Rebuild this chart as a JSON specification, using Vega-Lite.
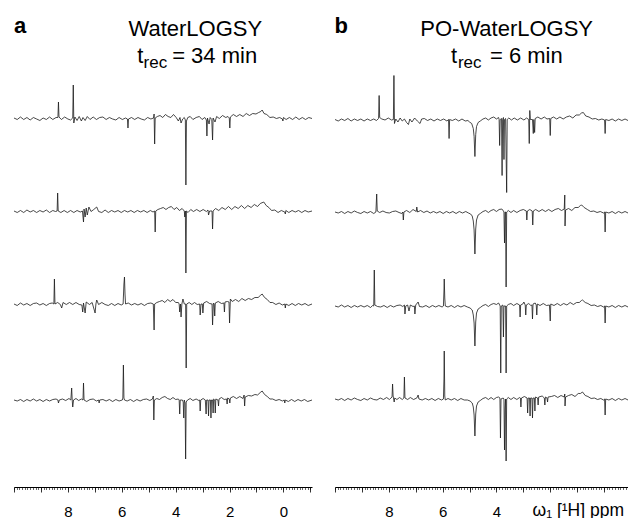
{
"$schema": "https://vega.github.io/schema/vega-lite/v6.json",
"padding": {"left": 12, "top": 0, "right": 0, "bottom": 0},
"bounds": "flush",
"spacing": 23,
"config": {"view": {"stroke": null}, "font": "Liberation Sans"},
"datasets": {
"a0": [{"x":10,"v":0},{"x":9.88,"v":-1.5},{"x":9.76,"v":1},{"x":9.64,"v":-1.5},{"x":9.52,"v":0.5},{"x":9.4,"v":-2},{"x":9.28,"v":0.5},{"x":9.16,"v":-1},{"x":9.04,"v":-2.5},{"x":8.92,"v":0},{"x":8.8,"v":-1.5},{"x":8.68,"v":1},{"x":8.56,"v":-1.5},{"x":8.44,"v":0.5},{"x":8.37,"v":0.5},{"x":8.35,"v":16},{"x":8.33,"v":1},{"x":8.24,"v":-1.5},{"x":8.12,"v":1},{"x":8,"v":-1},{"x":7.9,"v":-2},{"x":7.82,"v":0},{"x":7.8,"v":33},{"x":7.78,"v":-5},{"x":7.74,"v":1},{"x":7.66,"v":-2.5},{"x":7.58,"v":1.5},{"x":7.5,"v":-3},{"x":7.44,"v":0.5},{"x":7.36,"v":-2.5},{"x":7.28,"v":1.5},{"x":7.18,"v":-1.5},{"x":7.06,"v":1},{"x":6.94,"v":-1.5},{"x":6.82,"v":0.5},{"x":6.7,"v":1},{"x":6.58,"v":-1.5},{"x":6.46,"v":0.5},{"x":6.34,"v":-1},{"x":6.22,"v":-2},{"x":6.1,"v":0.5},{"x":5.98,"v":-1.5},{"x":5.86,"v":0},{"x":5.79,"v":-1},{"x":5.77,"v":-10},{"x":5.75,"v":-1},{"x":5.64,"v":0.5},{"x":5.52,"v":-1.5},{"x":5.4,"v":0.5},{"x":5.28,"v":-1},{"x":5.16,"v":-2},{"x":5.04,"v":0.5},{"x":4.92,"v":-1},{"x":4.82,"v":0},{"x":4.8,"v":4},{"x":4.78,"v":-26},{"x":4.76,"v":0},{"x":4.68,"v":1.5},{"x":4.58,"v":2.5},{"x":4.48,"v":0.5},{"x":4.38,"v":3.5},{"x":4.28,"v":1.5},{"x":4.18,"v":0.5},{"x":4.08,"v":3.5},{"x":3.98,"v":0.5},{"x":3.9,"v":-3},{"x":3.84,"v":0.5},{"x":3.8,"v":-5},{"x":3.74,"v":-1},{"x":3.68,"v":0.5},{"x":3.64,"v":-2},{"x":3.62,"v":-67},{"x":3.6,"v":-3},{"x":3.55,"v":0.5},{"x":3.46,"v":1.5},{"x":3.36,"v":-1.5},{"x":3.24,"v":0.5},{"x":3.12,"v":1.5},{"x":3.02,"v":-1.5},{"x":2.92,"v":0.5},{"x":2.86,"v":-2},{"x":2.84,"v":-18},{"x":2.82,"v":0},{"x":2.76,"v":-6},{"x":2.72,"v":0.5},{"x":2.66,"v":-1.5},{"x":2.63,"v":-22},{"x":2.61,"v":0},{"x":2.54,"v":-4},{"x":2.48,"v":1.5},{"x":2.38,"v":-0.5},{"x":2.26,"v":2.5},{"x":2.14,"v":0.5},{"x":2.06,"v":1.5},{"x":2.01,"v":0},{"x":1.99,"v":-10},{"x":1.97,"v":1},{"x":1.86,"v":3.5},{"x":1.74,"v":1.5},{"x":1.62,"v":3.5},{"x":1.5,"v":1.5},{"x":1.38,"v":4.5},{"x":1.26,"v":2.5},{"x":1.14,"v":4.5},{"x":1.02,"v":4},{"x":0.92,"v":5.5},{"x":0.84,"v":6.5},{"x":0.79,"v":8},{"x":0.72,"v":4.5},{"x":0.62,"v":3.5},{"x":0.5,"v":0.5},{"x":0.38,"v":1},{"x":0.26,"v":-0.5},{"x":0.14,"v":0.5},{"x":0.04,"v":-1},{"x":0.02,"v":-3},{"x":0,"v":0.5},{"x":-0.1,"v":-1.5},{"x":-0.22,"v":0.5},{"x":-0.34,"v":-1.5},{"x":-0.46,"v":1},{"x":-0.58,"v":-1.5},{"x":-0.7,"v":0.5},{"x":-0.82,"v":-1.5},{"x":-0.94,"v":0.5},{"x":-1.06,"v":-0.5}],
"a1": [{"x":10,"v":0},{"x":9.88,"v":-1.5},{"x":9.76,"v":0.5},{"x":9.64,"v":-1.5},{"x":9.52,"v":1},{"x":9.4,"v":-1},{"x":9.28,"v":0.5},{"x":9.16,"v":-1.5},{"x":9.04,"v":0.5},{"x":8.92,"v":-1},{"x":8.8,"v":1},{"x":8.68,"v":-1.5},{"x":8.56,"v":0.5},{"x":8.46,"v":-0.5},{"x":8.4,"v":0},{"x":8.38,"v":18},{"x":8.36,"v":0},{"x":8.26,"v":-1.5},{"x":8.14,"v":0.5},{"x":8.02,"v":-1.5},{"x":7.9,"v":0.5},{"x":7.78,"v":-1.5},{"x":7.66,"v":0.5},{"x":7.54,"v":-1},{"x":7.46,"v":0},{"x":7.42,"v":-11},{"x":7.4,"v":2},{"x":7.36,"v":-6},{"x":7.32,"v":3},{"x":7.28,"v":-4},{"x":7.22,"v":4},{"x":7.14,"v":-0.5},{"x":7.04,"v":1.5},{"x":6.93,"v":4},{"x":6.86,"v":-0.5},{"x":6.74,"v":-1.5},{"x":6.62,"v":1},{"x":6.5,"v":-1.5},{"x":6.38,"v":0.5},{"x":6.26,"v":-1},{"x":6.14,"v":0.5},{"x":6.02,"v":-1.5},{"x":5.9,"v":0.5},{"x":5.78,"v":-1},{"x":5.66,"v":0.5},{"x":5.54,"v":-1.5},{"x":5.42,"v":0.5},{"x":5.3,"v":-1},{"x":5.18,"v":0.5},{"x":5.06,"v":-1.5},{"x":4.94,"v":0.5},{"x":4.84,"v":-1},{"x":4.78,"v":0},{"x":4.76,"v":-21},{"x":4.74,"v":0},{"x":4.66,"v":1.5},{"x":4.56,"v":2.5},{"x":4.46,"v":3.5},{"x":4.36,"v":1.5},{"x":4.26,"v":3.5},{"x":4.16,"v":4.5},{"x":4.06,"v":1.5},{"x":3.96,"v":3.5},{"x":3.86,"v":0.5},{"x":3.76,"v":2.5},{"x":3.68,"v":0},{"x":3.66,"v":-6},{"x":3.64,"v":0},{"x":3.62,"v":-62},{"x":3.6,"v":0},{"x":3.54,"v":-1.5},{"x":3.44,"v":1.5},{"x":3.34,"v":-0.5},{"x":3.22,"v":1.5},{"x":3.1,"v":-0.5},{"x":2.98,"v":1.5},{"x":2.86,"v":-0.5},{"x":2.8,"v":1},{"x":2.78,"v":-4},{"x":2.74,"v":0},{"x":2.65,"v":0},{"x":2.63,"v":-18},{"x":2.61,"v":0},{"x":2.52,"v":2.5},{"x":2.4,"v":0.5},{"x":2.28,"v":3.5},{"x":2.16,"v":1.5},{"x":2.04,"v":4.5},{"x":1.92,"v":1.5},{"x":1.8,"v":4.5},{"x":1.68,"v":2.5},{"x":1.56,"v":5.5},{"x":1.44,"v":2.5},{"x":1.32,"v":5.5},{"x":1.2,"v":3.5},{"x":1.08,"v":6.5},{"x":0.96,"v":4.5},{"x":0.86,"v":7.5},{"x":0.73,"v":9},{"x":0.64,"v":5.5},{"x":0.54,"v":3.5},{"x":0.44,"v":0.5},{"x":0.32,"v":1},{"x":0.2,"v":-1.5},{"x":0.08,"v":0.5},{"x":-0.05,"v":-1},{"x":-0.07,"v":-3},{"x":-0.09,"v":0.5},{"x":-0.2,"v":-1.5},{"x":-0.32,"v":0.5},{"x":-0.44,"v":-1},{"x":-0.56,"v":0.5},{"x":-0.68,"v":-1.5},{"x":-0.8,"v":0.5},{"x":-0.92,"v":-1},{"x":-1.06,"v":0}],
"a2": [{"x":10,"v":0},{"x":9.88,"v":-1.5},{"x":9.76,"v":1},{"x":9.64,"v":-1},{"x":9.52,"v":0.5},{"x":9.4,"v":-1.5},{"x":9.28,"v":0.5},{"x":9.16,"v":1},{"x":9.04,"v":-1},{"x":8.92,"v":0.5},{"x":8.8,"v":-1.5},{"x":8.68,"v":0.5},{"x":8.58,"v":1},{"x":8.52,"v":0},{"x":8.5,"v":25},{"x":8.48,"v":0},{"x":8.38,"v":1.5},{"x":8.28,"v":-0.5},{"x":8.23,"v":-4},{"x":8.18,"v":1.5},{"x":8.06,"v":-0.5},{"x":7.94,"v":1.5},{"x":7.82,"v":-0.5},{"x":7.7,"v":1.5},{"x":7.58,"v":-0.5},{"x":7.48,"v":-1},{"x":7.45,"v":-8},{"x":7.42,"v":1},{"x":7.36,"v":-9},{"x":7.32,"v":2},{"x":7.2,"v":-0.5},{"x":7.1,"v":1.5},{"x":6.99,"v":-9},{"x":6.96,"v":0},{"x":6.93,"v":4},{"x":6.86,"v":-0.5},{"x":6.74,"v":1.5},{"x":6.62,"v":-0.5},{"x":6.5,"v":-1.5},{"x":6.38,"v":0.5},{"x":6.26,"v":-1.5},{"x":6.14,"v":0.5},{"x":6.02,"v":-1},{"x":5.95,"v":0},{"x":5.92,"v":20},{"x":5.9,"v":27},{"x":5.88,"v":10},{"x":5.86,"v":0},{"x":5.76,"v":1},{"x":5.64,"v":-1},{"x":5.52,"v":0.5},{"x":5.4,"v":-1},{"x":5.28,"v":0.5},{"x":5.16,"v":-1.5},{"x":5.04,"v":0.5},{"x":4.92,"v":1},{"x":4.83,"v":0},{"x":4.8,"v":-26},{"x":4.78,"v":0},{"x":4.7,"v":1.5},{"x":4.6,"v":2.5},{"x":4.5,"v":3.5},{"x":4.4,"v":1.5},{"x":4.3,"v":4.5},{"x":4.2,"v":2.5},{"x":4.1,"v":4.5},{"x":4,"v":1.5},{"x":3.9,"v":1.5},{"x":3.87,"v":0},{"x":3.85,"v":-8},{"x":3.82,"v":0},{"x":3.8,"v":-13},{"x":3.77,"v":0},{"x":3.73,"v":5},{"x":3.68,"v":0},{"x":3.63,"v":0},{"x":3.61,"v":-64},{"x":3.59,"v":0},{"x":3.5,"v":1.5},{"x":3.4,"v":-0.5},{"x":3.3,"v":1.5},{"x":3.2,"v":-0.5},{"x":3.11,"v":0},{"x":3.09,"v":-11},{"x":3.06,"v":0},{"x":3.01,"v":0},{"x":2.99,"v":-9},{"x":2.96,"v":1},{"x":2.85,"v":2.5},{"x":2.74,"v":0.5},{"x":2.65,"v":0},{"x":2.63,"v":-21},{"x":2.6,"v":1},{"x":2.57,"v":0},{"x":2.55,"v":-12},{"x":2.53,"v":1},{"x":2.42,"v":2.5},{"x":2.3,"v":0.5},{"x":2.21,"v":1},{"x":2.19,"v":-8},{"x":2.17,"v":2},{"x":2.08,"v":2.5},{"x":2.02,"v":2},{"x":2,"v":-19},{"x":1.97,"v":5},{"x":1.9,"v":2.5},{"x":1.78,"v":4.5},{"x":1.66,"v":2.5},{"x":1.54,"v":5.5},{"x":1.42,"v":3.5},{"x":1.3,"v":5.5},{"x":1.18,"v":4.5},{"x":1.06,"v":6.5},{"x":0.94,"v":6.5},{"x":0.86,"v":8.5},{"x":0.79,"v":10},{"x":0.7,"v":6.5},{"x":0.6,"v":4.5},{"x":0.5,"v":1.5},{"x":0.4,"v":1.5},{"x":0.28,"v":-0.5},{"x":0.16,"v":1},{"x":0.04,"v":-1},{"x":-0.05,"v":0},{"x":-0.07,"v":-4},{"x":-0.09,"v":0},{"x":-0.2,"v":-1.5},{"x":-0.32,"v":0.5},{"x":-0.44,"v":-1.5},{"x":-0.56,"v":0.5},{"x":-0.68,"v":-1},{"x":-0.8,"v":0.5},{"x":-0.92,"v":-1.5},{"x":-1.06,"v":0}],
"a3": [{"x":10,"v":0},{"x":9.88,"v":-1},{"x":9.76,"v":0.5},{"x":9.64,"v":-1.5},{"x":9.52,"v":0.5},{"x":9.4,"v":-1},{"x":9.28,"v":1},{"x":9.16,"v":-1},{"x":9.04,"v":0.5},{"x":8.92,"v":-1.5},{"x":8.8,"v":0.5},{"x":8.68,"v":-1},{"x":8.56,"v":0.5},{"x":8.44,"v":1},{"x":8.37,"v":0},{"x":8.35,"v":-3},{"x":8.32,"v":0},{"x":8.2,"v":1},{"x":8.08,"v":-0.5},{"x":7.96,"v":1.5},{"x":7.89,"v":0},{"x":7.86,"v":12},{"x":7.84,"v":0},{"x":7.82,"v":-7},{"x":7.79,"v":0},{"x":7.7,"v":1.5},{"x":7.6,"v":-0.5},{"x":7.5,"v":1},{"x":7.44,"v":0},{"x":7.42,"v":17},{"x":7.4,"v":0},{"x":7.3,"v":-1.5},{"x":7.18,"v":0.5},{"x":7.06,"v":1},{"x":6.94,"v":-1},{"x":6.86,"v":0},{"x":6.84,"v":-3},{"x":6.82,"v":0},{"x":6.7,"v":0.5},{"x":6.58,"v":-1},{"x":6.46,"v":0.5},{"x":6.34,"v":-1.5},{"x":6.22,"v":0.5},{"x":6.1,"v":-1},{"x":5.98,"v":0},{"x":5.96,"v":2},{"x":5.94,"v":35},{"x":5.92,"v":2},{"x":5.9,"v":0},{"x":5.8,"v":-1},{"x":5.68,"v":0.5},{"x":5.56,"v":-1.5},{"x":5.44,"v":0.5},{"x":5.32,"v":-1},{"x":5.2,"v":0.5},{"x":5.08,"v":1},{"x":4.96,"v":-0.5},{"x":4.86,"v":1},{"x":4.83,"v":4},{"x":4.81,"v":-20},{"x":4.79,"v":0},{"x":4.7,"v":1.5},{"x":4.6,"v":0.5},{"x":4.5,"v":2.5},{"x":4.4,"v":3.5},{"x":4.3,"v":1.5},{"x":4.2,"v":0.5},{"x":4.1,"v":2.5},{"x":4,"v":0.5},{"x":3.9,"v":1},{"x":3.87,"v":0},{"x":3.85,"v":-14},{"x":3.83,"v":0},{"x":3.75,"v":0},{"x":3.72,"v":-2},{"x":3.7,"v":-18},{"x":3.68,"v":0},{"x":3.65,"v":-3},{"x":3.63,"v":-59},{"x":3.61,"v":-2},{"x":3.56,"v":0},{"x":3.46,"v":1.5},{"x":3.36,"v":-0.5},{"x":3.24,"v":1},{"x":3.14,"v":-0.5},{"x":3.11,"v":0},{"x":3.09,"v":-11},{"x":3.07,"v":0},{"x":2.98,"v":1.5},{"x":2.9,"v":0},{"x":2.87,"v":-14},{"x":2.85,"v":0},{"x":2.8,"v":0},{"x":2.78,"v":-16},{"x":2.76,"v":0},{"x":2.71,"v":0},{"x":2.69,"v":-18},{"x":2.67,"v":0},{"x":2.63,"v":0},{"x":2.61,"v":-13},{"x":2.59,"v":1},{"x":2.55,"v":0},{"x":2.53,"v":-13},{"x":2.51,"v":1},{"x":2.43,"v":0},{"x":2.41,"v":-6},{"x":2.39,"v":1},{"x":2.3,"v":2.5},{"x":2.2,"v":0.5},{"x":2.11,"v":1},{"x":2.09,"v":-4},{"x":2.07,"v":2},{"x":2.01,"v":1},{"x":1.99,"v":-3},{"x":1.97,"v":2},{"x":1.86,"v":3.5},{"x":1.74,"v":1.5},{"x":1.62,"v":3.5},{"x":1.5,"v":1.5},{"x":1.46,"v":5},{"x":1.44,"v":-6},{"x":1.42,"v":3},{"x":1.3,"v":4.5},{"x":1.18,"v":4},{"x":1.06,"v":5.5},{"x":0.96,"v":5},{"x":0.86,"v":7.5},{"x":0.79,"v":9},{"x":0.7,"v":5.5},{"x":0.6,"v":3.5},{"x":0.5,"v":1},{"x":0.4,"v":1},{"x":0.28,"v":-0.5},{"x":0.16,"v":0.5},{"x":0.04,"v":-1},{"x":-0.03,"v":0},{"x":-0.05,"v":-3},{"x":-0.07,"v":0},{"x":-0.18,"v":-1.5},{"x":-0.3,"v":0.5},{"x":-0.42,"v":-1.5},{"x":-0.54,"v":0.5},{"x":-0.66,"v":-1},{"x":-0.78,"v":0.5},{"x":-0.9,"v":-1.5},{"x":-1.06,"v":0}],
"b0": [{"x":10,"v":0},{"x":9.88,"v":-1.5},{"x":9.76,"v":0.5},{"x":9.64,"v":-1},{"x":9.52,"v":1},{"x":9.4,"v":-1.5},{"x":9.28,"v":0.5},{"x":9.16,"v":-1},{"x":9.04,"v":0.5},{"x":8.92,"v":-1.5},{"x":8.8,"v":0.5},{"x":8.68,"v":-1},{"x":8.56,"v":0.5},{"x":8.46,"v":-1},{"x":8.38,"v":1},{"x":8.36,"v":24},{"x":8.34,"v":2},{"x":8.26,"v":0.5},{"x":8.14,"v":-0.5},{"x":8.02,"v":1.5},{"x":7.9,"v":-0.5},{"x":7.83,"v":0},{"x":7.81,"v":44},{"x":7.79,"v":-4},{"x":7.74,"v":0.5},{"x":7.66,"v":-2.5},{"x":7.58,"v":1.5},{"x":7.5,"v":-1.5},{"x":7.42,"v":0.5},{"x":7.34,"v":-3},{"x":7.27,"v":-5},{"x":7.22,"v":0.5},{"x":7.14,"v":-2.5},{"x":7.04,"v":1.5},{"x":6.94,"v":-1.5},{"x":6.84,"v":-4},{"x":6.78,"v":0.5},{"x":6.68,"v":1},{"x":6.56,"v":-1},{"x":6.44,"v":0.5},{"x":6.32,"v":-1.5},{"x":6.2,"v":0.5},{"x":6.08,"v":-1},{"x":5.96,"v":0.5},{"x":5.84,"v":-1.5},{"x":5.78,"v":0},{"x":5.76,"v":-19},{"x":5.74,"v":0},{"x":5.64,"v":-1},{"x":5.52,"v":0.5},{"x":5.4,"v":-1.5},{"x":5.28,"v":0.5},{"x":5.16,"v":-1.5},{"x":5.06,"v":-1},{"x":5,"v":-2.5},{"x":4.92,"v":-4},{"x":4.86,"v":-9},{"x":4.83,"v":-17},{"x":4.8,"v":-37},{"x":4.77,"v":-15},{"x":4.74,"v":-7},{"x":4.68,"v":-3},{"x":4.6,"v":-1.5},{"x":4.5,"v":0.5},{"x":4.4,"v":1.5},{"x":4.3,"v":-0.5},{"x":4.2,"v":1.5},{"x":4.1,"v":2.5},{"x":4,"v":0.5},{"x":3.92,"v":2},{"x":3.9,"v":0},{"x":3.88,"v":-26},{"x":3.86,"v":0},{"x":3.81,"v":1},{"x":3.79,"v":-56},{"x":3.77,"v":0},{"x":3.74,"v":2},{"x":3.72,"v":-40},{"x":3.7,"v":0},{"x":3.66,"v":1},{"x":3.62,"v":-73},{"x":3.6,"v":0},{"x":3.54,"v":1.5},{"x":3.44,"v":-0.5},{"x":3.34,"v":1.5},{"x":3.22,"v":-0.5},{"x":3.1,"v":1.5},{"x":2.98,"v":-0.5},{"x":2.88,"v":1.5},{"x":2.8,"v":0},{"x":2.78,"v":-24},{"x":2.76,"v":9},{"x":2.74,"v":0},{"x":2.66,"v":0},{"x":2.63,"v":-14},{"x":2.61,"v":0},{"x":2.58,"v":-13},{"x":2.56,"v":1},{"x":2.46,"v":2.5},{"x":2.34,"v":0.5},{"x":2.22,"v":2.5},{"x":2.12,"v":0.5},{"x":2.02,"v":1},{"x":2,"v":-16},{"x":1.98,"v":1},{"x":1.88,"v":2.5},{"x":1.76,"v":0.5},{"x":1.64,"v":2.5},{"x":1.52,"v":0.5},{"x":1.4,"v":2.5},{"x":1.28,"v":3.5},{"x":1.16,"v":1.5},{"x":1.04,"v":4.5},{"x":0.92,"v":4.5},{"x":0.84,"v":6.5},{"x":0.77,"v":7},{"x":0.68,"v":3.5},{"x":0.56,"v":2.5},{"x":0.44,"v":0.5},{"x":0.32,"v":1},{"x":0.2,"v":-0.5},{"x":0.08,"v":0.5},{"x":-0.02,"v":-0.5},{"x":-0.04,"v":-14},{"x":-0.06,"v":0},{"x":-0.18,"v":-1},{"x":-0.3,"v":0.5},{"x":-0.42,"v":-1.5},{"x":-0.54,"v":0.5},{"x":-0.66,"v":-1},{"x":-0.78,"v":0.5},{"x":-0.89,"v":-1}],
"b1": [{"x":10,"v":0},{"x":9.88,"v":-1},{"x":9.76,"v":0.5},{"x":9.64,"v":-1.5},{"x":9.52,"v":0.5},{"x":9.4,"v":-1},{"x":9.28,"v":1},{"x":9.16,"v":-0.5},{"x":9.04,"v":-1.5},{"x":8.92,"v":0.5},{"x":8.8,"v":-1},{"x":8.68,"v":0.5},{"x":8.56,"v":-1.5},{"x":8.48,"v":0},{"x":8.45,"v":18},{"x":8.43,"v":1},{"x":8.34,"v":-0.5},{"x":8.22,"v":1},{"x":8.1,"v":-0.5},{"x":7.98,"v":-1},{"x":7.86,"v":0.5},{"x":7.74,"v":1},{"x":7.62,"v":-0.5},{"x":7.52,"v":-1.5},{"x":7.48,"v":0},{"x":7.46,"v":-8},{"x":7.44,"v":0},{"x":7.34,"v":1.5},{"x":7.22,"v":-0.5},{"x":7.1,"v":2.5},{"x":6.98,"v":0.5},{"x":6.96,"v":5},{"x":6.93,"v":0},{"x":6.82,"v":1.5},{"x":6.7,"v":-0.5},{"x":6.58,"v":1},{"x":6.46,"v":-1},{"x":6.34,"v":0.5},{"x":6.22,"v":-1},{"x":6.1,"v":0.5},{"x":5.98,"v":-1.5},{"x":5.86,"v":0.5},{"x":5.74,"v":-1},{"x":5.62,"v":0.5},{"x":5.5,"v":-1.5},{"x":5.38,"v":0.5},{"x":5.26,"v":-1},{"x":5.14,"v":0.5},{"x":5.04,"v":-1},{"x":4.96,"v":-2},{"x":4.9,"v":-4},{"x":4.86,"v":-9},{"x":4.83,"v":-18},{"x":4.8,"v":-42},{"x":4.77,"v":-17},{"x":4.74,"v":-8},{"x":4.68,"v":-3},{"x":4.6,"v":-1.5},{"x":4.5,"v":0.5},{"x":4.4,"v":1.5},{"x":4.3,"v":-0.5},{"x":4.2,"v":1.5},{"x":4.1,"v":2.5},{"x":4,"v":0.5},{"x":3.9,"v":2.5},{"x":3.8,"v":3},{"x":3.74,"v":1},{"x":3.72,"v":0},{"x":3.7,"v":-31},{"x":3.68,"v":0},{"x":3.66,"v":0},{"x":3.64,"v":-75},{"x":3.62,"v":0},{"x":3.56,"v":1.5},{"x":3.46,"v":-0.5},{"x":3.36,"v":1.5},{"x":3.24,"v":-0.5},{"x":3.12,"v":1.5},{"x":3,"v":2.5},{"x":2.89,"v":1},{"x":2.87,"v":-8},{"x":2.85,"v":1},{"x":2.76,"v":2.5},{"x":2.67,"v":1},{"x":2.65,"v":-13},{"x":2.63,"v":1},{"x":2.54,"v":2.5},{"x":2.42,"v":0.5},{"x":2.3,"v":2.5},{"x":2.18,"v":0.5},{"x":2.06,"v":2.5},{"x":1.94,"v":0.5},{"x":1.82,"v":2.5},{"x":1.7,"v":3.5},{"x":1.58,"v":1.5},{"x":1.48,"v":3},{"x":1.46,"v":17},{"x":1.45,"v":-14},{"x":1.43,"v":2},{"x":1.32,"v":3.5},{"x":1.2,"v":1.5},{"x":1.08,"v":4.5},{"x":0.96,"v":4.5},{"x":0.88,"v":6.5},{"x":0.83,"v":7},{"x":0.74,"v":4.5},{"x":0.62,"v":2.5},{"x":0.5,"v":0.5},{"x":0.38,"v":1},{"x":0.26,"v":-0.5},{"x":0.14,"v":0.5},{"x":0.02,"v":-1},{"x":-0.02,"v":0},{"x":-0.04,"v":-20},{"x":-0.06,"v":0},{"x":-0.18,"v":-1},{"x":-0.3,"v":0.5},{"x":-0.42,"v":-1.5},{"x":-0.54,"v":0.5},{"x":-0.66,"v":-1},{"x":-0.78,"v":0.5},{"x":-0.89,"v":-1}],
"b2": [{"x":10,"v":0},{"x":9.88,"v":-1},{"x":9.76,"v":1},{"x":9.64,"v":-1},{"x":9.52,"v":0.5},{"x":9.4,"v":-1.5},{"x":9.28,"v":0.5},{"x":9.16,"v":-1},{"x":9.04,"v":0.5},{"x":8.92,"v":-1},{"x":8.8,"v":0.5},{"x":8.68,"v":-1.5},{"x":8.6,"v":0.5},{"x":8.56,"v":0},{"x":8.54,"v":36},{"x":8.52,"v":1},{"x":8.42,"v":-0.5},{"x":8.3,"v":-1},{"x":8.18,"v":0.5},{"x":8.06,"v":-1.5},{"x":7.94,"v":0.5},{"x":7.82,"v":-1},{"x":7.7,"v":0.5},{"x":7.58,"v":1},{"x":7.48,"v":-0.5},{"x":7.42,"v":1},{"x":7.4,"v":-8},{"x":7.37,"v":0},{"x":7.3,"v":1},{"x":7.25,"v":-5},{"x":7.2,"v":1},{"x":7.1,"v":-0.5},{"x":7.05,"v":0},{"x":7.03,"v":-8},{"x":7,"v":1},{"x":6.91,"v":4},{"x":6.86,"v":-0.5},{"x":6.74,"v":-1},{"x":6.62,"v":0.5},{"x":6.5,"v":-1.5},{"x":6.38,"v":0.5},{"x":6.26,"v":-1},{"x":6.14,"v":0.5},{"x":6.02,"v":-1},{"x":5.97,"v":0},{"x":5.95,"v":15},{"x":5.94,"v":27},{"x":5.92,"v":8},{"x":5.9,"v":0},{"x":5.8,"v":-1},{"x":5.68,"v":0.5},{"x":5.56,"v":-1.5},{"x":5.44,"v":0.5},{"x":5.32,"v":-1},{"x":5.2,"v":0.5},{"x":5.08,"v":-1},{"x":4.98,"v":-2},{"x":4.9,"v":-4},{"x":4.86,"v":-9},{"x":4.83,"v":-17},{"x":4.8,"v":-40},{"x":4.77,"v":-16},{"x":4.74,"v":-7},{"x":4.68,"v":-3},{"x":4.6,"v":-1.5},{"x":4.5,"v":0.5},{"x":4.4,"v":1.5},{"x":4.3,"v":-0.5},{"x":4.2,"v":1.5},{"x":4.1,"v":2.5},{"x":4,"v":1.5},{"x":3.92,"v":3},{"x":3.88,"v":1},{"x":3.86,"v":0},{"x":3.84,"v":-67},{"x":3.82,"v":0},{"x":3.76,"v":1},{"x":3.74,"v":-31},{"x":3.72,"v":0},{"x":3.66,"v":0},{"x":3.64,"v":-67},{"x":3.62,"v":0},{"x":3.56,"v":1.5},{"x":3.46,"v":2.5},{"x":3.36,"v":0.5},{"x":3.24,"v":2.5},{"x":3.14,"v":1},{"x":3.12,"v":-11},{"x":3.1,"v":1},{"x":3.02,"v":2},{"x":2.98,"v":4},{"x":2.93,"v":1},{"x":2.91,"v":-9},{"x":2.89,"v":1},{"x":2.8,"v":2.5},{"x":2.72,"v":0.5},{"x":2.68,"v":1},{"x":2.66,"v":-13},{"x":2.64,"v":2},{"x":2.56,"v":3},{"x":2.52,"v":1},{"x":2.5,"v":-9},{"x":2.48,"v":2},{"x":2.38,"v":0.5},{"x":2.26,"v":2.5},{"x":2.14,"v":0.5},{"x":2.03,"v":1},{"x":2,"v":-15},{"x":1.98,"v":2},{"x":1.86,"v":0.5},{"x":1.74,"v":2.5},{"x":1.62,"v":0.5},{"x":1.5,"v":2.5},{"x":1.38,"v":1},{"x":1.26,"v":3.5},{"x":1.14,"v":1.5},{"x":1.02,"v":3.5},{"x":0.92,"v":3.5},{"x":0.84,"v":5.5},{"x":0.8,"v":6},{"x":0.7,"v":3.5},{"x":0.6,"v":2.5},{"x":0.48,"v":0.5},{"x":0.36,"v":1},{"x":0.24,"v":-0.5},{"x":0.12,"v":0.5},{"x":0.02,"v":-1},{"x":-0.02,"v":0},{"x":-0.04,"v":-17},{"x":-0.06,"v":0},{"x":-0.18,"v":-1},{"x":-0.3,"v":0.5},{"x":-0.42,"v":-1.5},{"x":-0.54,"v":0.5},{"x":-0.66,"v":-1},{"x":-0.78,"v":0.5},{"x":-0.89,"v":-1}],
"b3": [{"x":10,"v":0},{"x":9.88,"v":-1},{"x":9.76,"v":0.5},{"x":9.64,"v":-1.5},{"x":9.52,"v":0.5},{"x":9.4,"v":-1},{"x":9.28,"v":1},{"x":9.16,"v":-0.5},{"x":9.04,"v":-1.5},{"x":8.92,"v":0.5},{"x":8.8,"v":-1},{"x":8.68,"v":1},{"x":8.56,"v":-0.5},{"x":8.44,"v":-1},{"x":8.32,"v":1},{"x":8.2,"v":-0.5},{"x":8.08,"v":1.5},{"x":7.98,"v":-0.5},{"x":7.92,"v":1},{"x":7.88,"v":2},{"x":7.86,"v":15},{"x":7.84,"v":3},{"x":7.8,"v":-3},{"x":7.78,"v":1},{"x":7.7,"v":-0.5},{"x":7.6,"v":1.5},{"x":7.5,"v":-0.5},{"x":7.44,"v":1},{"x":7.42,"v":22},{"x":7.4,"v":1},{"x":7.3,"v":-0.5},{"x":7.2,"v":1.5},{"x":7.08,"v":-0.5},{"x":6.96,"v":1},{"x":6.91,"v":4},{"x":6.88,"v":0},{"x":6.76,"v":-1},{"x":6.64,"v":0.5},{"x":6.52,"v":-1},{"x":6.4,"v":0.5},{"x":6.28,"v":-1.5},{"x":6.16,"v":0.5},{"x":6.04,"v":-1},{"x":5.97,"v":0},{"x":5.95,"v":20},{"x":5.94,"v":48},{"x":5.92,"v":3},{"x":5.9,"v":-1},{"x":5.8,"v":0.5},{"x":5.68,"v":-1},{"x":5.56,"v":0.5},{"x":5.44,"v":-1.5},{"x":5.32,"v":0.5},{"x":5.2,"v":-1},{"x":5.08,"v":-1},{"x":4.98,"v":-2},{"x":4.9,"v":-4},{"x":4.86,"v":-8},{"x":4.83,"v":-16},{"x":4.8,"v":-37},{"x":4.77,"v":-15},{"x":4.74,"v":-7},{"x":4.68,"v":-3},{"x":4.6,"v":-1.5},{"x":4.5,"v":0.5},{"x":4.4,"v":1.5},{"x":4.3,"v":-0.5},{"x":4.2,"v":1.5},{"x":4.1,"v":-0.5},{"x":4,"v":1.5},{"x":3.92,"v":2},{"x":3.87,"v":1},{"x":3.85,"v":-39},{"x":3.83,"v":0},{"x":3.75,"v":1},{"x":3.72,"v":0},{"x":3.7,"v":-51},{"x":3.68,"v":-10},{"x":3.66,"v":0},{"x":3.64,"v":-62},{"x":3.62,"v":0},{"x":3.56,"v":1.5},{"x":3.46,"v":-0.5},{"x":3.36,"v":1.5},{"x":3.24,"v":-0.5},{"x":3.14,"v":1.5},{"x":3.11,"v":1},{"x":3.09,"v":-8},{"x":3.07,"v":1},{"x":2.96,"v":2.5},{"x":2.86,"v":1},{"x":2.84,"v":-14},{"x":2.82,"v":1},{"x":2.77,"v":1},{"x":2.75,"v":-17},{"x":2.73,"v":1},{"x":2.68,"v":1},{"x":2.66,"v":-19},{"x":2.64,"v":1},{"x":2.59,"v":1},{"x":2.57,"v":-12},{"x":2.55,"v":2},{"x":2.47,"v":1},{"x":2.45,"v":-6},{"x":2.43,"v":2},{"x":2.3,"v":3},{"x":2.22,"v":1},{"x":2.2,"v":-6},{"x":2.18,"v":2},{"x":2.12,"v":1},{"x":2.1,"v":-3},{"x":2.08,"v":2},{"x":1.96,"v":2.5},{"x":1.84,"v":3.5},{"x":1.72,"v":1.5},{"x":1.6,"v":3.5},{"x":1.48,"v":2},{"x":1.46,"v":5},{"x":1.45,"v":-7},{"x":1.43,"v":2},{"x":1.32,"v":3.5},{"x":1.2,"v":4.5},{"x":1.08,"v":2.5},{"x":0.96,"v":5.5},{"x":0.88,"v":5.5},{"x":0.8,"v":7},{"x":0.7,"v":3.5},{"x":0.6,"v":2.5},{"x":0.48,"v":0.5},{"x":0.36,"v":1},{"x":0.24,"v":-0.5},{"x":0.12,"v":0.5},{"x":0.02,"v":-1},{"x":-0.02,"v":0},{"x":-0.04,"v":-16},{"x":-0.06,"v":0},{"x":-0.18,"v":-1},{"x":-0.3,"v":0.5},{"x":-0.42,"v":-1.5},{"x":-0.54,"v":0.5},{"x":-0.66,"v":-1},{"x":-0.78,"v":0.5},{"x":-0.89,"v":-1}]
},
"hconcat": [
{
"width": 298, "height": 487,
"resolve": {"axis": {"x": "independent"}},
"layer": [
{"data": {"name": "a0"}, "transform": [{"calculate": "datum.v", "as": "y"}],
 "mark": {"type": "line", "color": "#1a1a1a", "strokeWidth": 0.8},
 "encoding": {
  "x": {"field": "x", "type": "quantitative", "scale": {"domain": [-1.06, 10], "reverse": true, "nice": false, "zero": false},
   "axis": {"orient": "bottom", "values": [10,9,8,7,6,5,4,3,2,1,0,-1], "tickSize": 5, "tickWidth": 0.8, "tickColor": "black", "domainColor": "black", "domainWidth": 1, "grid": false, "title": null, "labelExpr": "datum.value % 2 == 0 && datum.value < 9 ? datum.label : ''", "labelFontSize": 15, "labelColor": "black", "labelPadding": 12, "labelFlush": false, "labelOverlap": false, "labelFont": "Liberation Sans"}},
  "y": {"field": "y", "type": "quantitative", "scale": {"domain": [-369, 118], "nice": false, "zero": false}, "axis": null}}},
{"data": {"name": "a1"}, "transform": [{"calculate": "datum.v - 93", "as": "y"}],
 "mark": {"type": "line", "color": "#1a1a1a", "strokeWidth": 0.8},
 "encoding": {
  "x": {"field": "x", "type": "quantitative", "axis": {"orient": "bottom", "tickCount": 110, "tickSize": 2.5, "tickWidth": 0.6, "tickColor": "black", "domain": false, "labels": false, "grid": false, "title": null}},
  "y": {"field": "y", "type": "quantitative", "axis": null}}},
{"data": {"name": "a2"}, "transform": [{"calculate": "datum.v - 186", "as": "y"}],
 "mark": {"type": "line", "color": "#1a1a1a", "strokeWidth": 0.8},
 "encoding": {"x": {"field": "x", "type": "quantitative", "axis": null}, "y": {"field": "y", "type": "quantitative", "axis": null}}},
{"data": {"name": "a3"}, "transform": [{"calculate": "datum.v - 282", "as": "y"}],
 "mark": {"type": "line", "color": "#1a1a1a", "strokeWidth": 0.8},
 "encoding": {"x": {"field": "x", "type": "quantitative", "axis": null}, "y": {"field": "y", "type": "quantitative", "axis": null}}},
{"data": {"values": [{}]}, "mark": {"type": "text", "text": "a", "fontSize": 22, "fontWeight": "bold", "align": "left", "baseline": "alphabetic", "color": "black", "font": "Liberation Sans"},
 "encoding": {"x": {"datum": 10, "type": "quantitative", "axis": null}, "y": {"datum": 85.5, "type": "quantitative", "axis": null}}},
{"data": {"values": [{}]}, "mark": {"type": "text", "text": "WaterLOGSY", "fontSize": 22, "align": "center", "baseline": "alphabetic", "color": "black", "font": "Liberation Sans"},
 "encoding": {"x": {"datum": 3.27, "type": "quantitative", "axis": null}, "y": {"datum": 82, "type": "quantitative", "axis": null}}},
{"data": {"values": [{}]}, "mark": {"type": "text", "text": "t", "fontSize": 22, "align": "left", "baseline": "alphabetic", "color": "black", "font": "Liberation Sans"},
 "encoding": {"x": {"datum": 5.43, "type": "quantitative", "axis": null}, "y": {"datum": 55.5, "type": "quantitative", "axis": null}}},
{"data": {"values": [{}]}, "mark": {"type": "text", "text": "rec", "fontSize": 17, "align": "left", "baseline": "alphabetic", "color": "black", "font": "Liberation Sans"},
 "encoding": {"x": {"datum": 5.19, "type": "quantitative", "axis": null}, "y": {"datum": 50, "type": "quantitative", "axis": null}}},
{"data": {"values": [{}]}, "mark": {"type": "text", "text": "= 34 min", "fontSize": 22, "align": "left", "baseline": "alphabetic", "color": "black", "font": "Liberation Sans"},
 "encoding": {"x": {"datum": 4.13, "type": "quantitative", "axis": null}, "y": {"datum": 55.5, "type": "quantitative", "axis": null}}}
]
},
{
"width": 293, "height": 487,
"resolve": {"axis": {"x": "independent"}},
"layer": [
{"data": {"name": "b0"}, "transform": [{"calculate": "datum.v - 1.5", "as": "y"}],
 "mark": {"type": "line", "color": "#1a1a1a", "strokeWidth": 0.8},
 "encoding": {
  "x": {"field": "x", "type": "quantitative", "scale": {"domain": [-0.89, 10], "reverse": true, "nice": false, "zero": false},
   "axis": {"orient": "bottom", "values": [10,9,8,7,6,5,4,3,2,1,0], "tickSize": 5, "tickWidth": 0.8, "tickColor": "black", "domainColor": "black", "domainWidth": 1, "grid": false, "labelExpr": "datum.value % 2 == 0 && datum.value < 9 && datum.value > 3 ? datum.label : ''", "labelFontSize": 15, "labelColor": "black", "labelPadding": 12, "labelFlush": false, "labelOverlap": false, "labelFont": "Liberation Sans",
    "title": "ω₁ [¹H] ppm", "titleX": 197, "titleY": 28, "titleAlign": "left", "titleAnchor": "start", "titleBaseline": "alphabetic", "titleFontSize": 17.5, "titleFontWeight": "normal", "titleColor": "black", "titleFont": "Liberation Sans"}},
  "y": {"field": "y", "type": "quantitative", "scale": {"domain": [-369, 118], "nice": false, "zero": false}, "axis": null}}},
{"data": {"name": "b1"}, "transform": [{"calculate": "datum.v - 94", "as": "y"}],
 "mark": {"type": "line", "color": "#1a1a1a", "strokeWidth": 0.8},
 "encoding": {
  "x": {"field": "x", "type": "quantitative", "axis": {"orient": "bottom", "tickCount": 110, "tickSize": 2.5, "tickWidth": 0.6, "tickColor": "black", "domain": false, "labels": false, "grid": false, "title": null}},
  "y": {"field": "y", "type": "quantitative", "axis": null}}},
{"data": {"name": "b2"}, "transform": [{"calculate": "datum.v - 188", "as": "y"}],
 "mark": {"type": "line", "color": "#1a1a1a", "strokeWidth": 0.8},
 "encoding": {"x": {"field": "x", "type": "quantitative", "axis": null}, "y": {"field": "y", "type": "quantitative", "axis": null}}},
{"data": {"name": "b3"}, "transform": [{"calculate": "datum.v - 281", "as": "y"}],
 "mark": {"type": "line", "color": "#1a1a1a", "strokeWidth": 0.8},
 "encoding": {"x": {"field": "x", "type": "quantitative", "axis": null}, "y": {"field": "y", "type": "quantitative", "axis": null}}},
{"data": {"values": [{}]}, "mark": {"type": "text", "text": "b", "fontSize": 22, "fontWeight": "bold", "align": "left", "baseline": "alphabetic", "color": "black", "font": "Liberation Sans"},
 "encoding": {"x": {"datum": 10.02, "type": "quantitative", "axis": null}, "y": {"datum": 85.5, "type": "quantitative", "axis": null}}},
{"data": {"values": [{}]}, "mark": {"type": "text", "text": "PO-WaterLOGSY", "fontSize": 22, "align": "center", "baseline": "alphabetic", "color": "black", "font": "Liberation Sans"},
 "encoding": {"x": {"datum": 3.62, "type": "quantitative", "axis": null}, "y": {"datum": 82, "type": "quantitative", "axis": null}}},
{"data": {"values": [{}]}, "mark": {"type": "text", "text": "t", "fontSize": 22, "align": "left", "baseline": "alphabetic", "color": "black", "font": "Liberation Sans"},
 "encoding": {"x": {"datum": 5.69, "type": "quantitative", "axis": null}, "y": {"datum": 55.5, "type": "quantitative", "axis": null}}},
{"data": {"values": [{}]}, "mark": {"type": "text", "text": "rec", "fontSize": 17, "align": "left", "baseline": "alphabetic", "color": "black", "font": "Liberation Sans"},
 "encoding": {"x": {"datum": 5.43, "type": "quantitative", "axis": null}, "y": {"datum": 50, "type": "quantitative", "axis": null}}},
{"data": {"values": [{}]}, "mark": {"type": "text", "text": "= 6 min", "fontSize": 22, "align": "left", "baseline": "alphabetic", "color": "black", "font": "Liberation Sans"},
 "encoding": {"x": {"datum": 4.24, "type": "quantitative", "axis": null}, "y": {"datum": 55.5, "type": "quantitative", "axis": null}}}
]
}
]
}
